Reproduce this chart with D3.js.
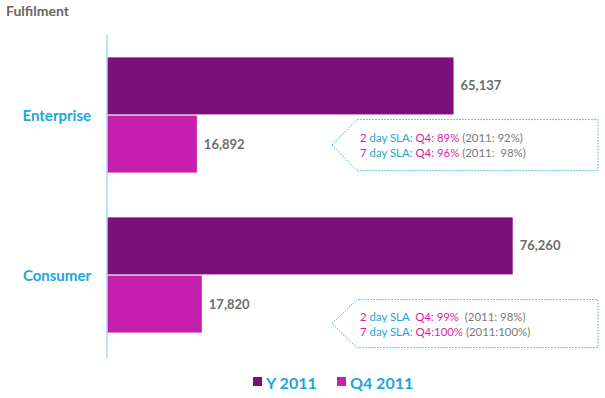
<!DOCTYPE html>
<html lang="en">
<head>
<meta charset="UTF-8">
<title>Fulfilment</title>
<script src="https://cdn.jsdelivr.net/npm/d3@7"></script>
<style>
    body { margin: 0; background: #fff; }
    svg { display: block; font-family: Lato, "Open Sans", sans-serif; }
    .value { fill: #6d6d6d; font-weight: bold; font-size: 13px; }
    .cat { fill: #1ba6e0; font-weight: bold; font-size: 15px; }
    .note { font-size: 11.4px; }
</style>
</head>
<body>
<script>
    /******* DATA *******/
    const categories = ["Enterprise", "Consumer"];
    const seriesNames = ["Y 2011", "Q4 2011"];
    const yearValues = [65137, 76260];
    const q4Values = [16892, 17820];
    // callout lines: [prefix, label, q4 part, 2011 part]
    const enterpriseNotes = [
        ["2", " day SLA: ", "Q4: 89% ", "(2011: 92%)"],
        ["7", " day SLA: ", "Q4: 96% ", "(2011:  98%)"]
    ];
    const consumerNotes = [
        ["2", " day SLA  ", "Q4: 99%  ", "(2011: 98%)"],
        ["7", " day SLA: ", "Q4:100% ", "(2011:100%)"]
    ];

    /******* STYLING *******/
    const width = 605, height = 398;
    const colors = ["#7d0f7b", "#c51fae"];
    const blue = "#1ba6e0";

    const svg = d3.select("body").append("svg")
        .attr("width", width)
        .attr("height", height);

    const rows = categories.map((c, i) => ({
        cat: c,
        values: [yearValues[i], q4Values[i]],
        notes: i === 0 ? enterpriseNotes : consumerNotes
    }));

    // Scales
    const xScale = d3.scaleLinear().domain([0, 80000]).range([107, 107 + 80000 * 0.00532]);
    const yScale = d3.scaleBand().domain(categories).range([35, 355]).paddingInner(0.28).paddingOuter(0.14);
    const subScale = d3.scaleBand().domain(seriesNames).range([0, yScale.bandwidth()]).paddingInner(0.02);

    // Title
    svg.append("text")
        .attr("x", 6).attr("y", 16)
        .style("font-size", "14px").style("font-weight", "bold").style("fill", "#666")
        .text("Fulfilment");

    // Bars
    const groups = svg.selectAll("g.group")
        .data(rows)
        .enter()
        .append("g")
        .attr("class", "group")
        .attr("transform", d => `translate(0,${yScale(d.cat)})`);

    groups.selectAll("rect")
        .data(d => d.values.map((v, j) => ({ v: v, s: seriesNames[j], j: j })))
        .enter()
        .append("rect")
        .attr("x", xScale(0))
        .attr("y", d => subScale(d.s))
        .attr("width", d => xScale(d.v) - xScale(0))
        .attr("height", subScale.bandwidth())
        .attr("fill", d => colors[d.j]);

    groups.selectAll("text.value")
        .data(d => d.values.map((v, j) => ({ v: v, s: seriesNames[j] })))
        .enter()
        .append("text")
        .attr("class", "value")
        .attr("x", d => xScale(d.v) + 7)
        .attr("y", d => subScale(d.s) + subScale.bandwidth() / 2)
        .attr("dy", "0.35em")
        .text(d => d3.format(",")(d.v));

    // Category labels
    svg.selectAll("text.cat")
        .data(categories)
        .enter()
        .append("text")
        .attr("class", "cat")
        .attr("x", 91)
        .attr("y", d => yScale(d) + yScale.bandwidth() / 2 + 1)
        .attr("dy", "0.35em")
        .attr("text-anchor", "end")
        .text(d => d);

    // Axis line
    svg.append("line")
        .attr("x1", xScale(0)).attr("x2", xScale(0))
        .attr("y1", 35).attr("y2", 358)
        .attr("stroke", "#a9d8f0").attr("stroke-width", 1.5);

    // Callouts (box top / bottom, first text line, relative to the Q4 bar)
    const boxTop = [4, 24], boxBot = [55, 72], noteY = [22, 41];
    const callout = groups.append("g")
        .attr("transform", d => `translate(0,${subScale(seriesNames[1])})`);

    callout.append("path")
        .attr("d", (d, i) => {
            const top = boxTop[i], bot = boxBot[i];
            const mid = (top + bot) / 2;
            return `M332,${mid} L357,${top} L598,${top} L598,${bot} L357,${bot} Z`;
        })
        .attr("fill", "none")
        .attr("stroke", "#2fb4e6")
        .attr("stroke-width", 1)
        .attr("stroke-dasharray", "1.5,1.5");

    const noteText = callout.selectAll("text.note")
        .data((d, i) => d.notes.map((n, k) => ({ n: n, k: k, i: i })))
        .enter()
        .append("text")
        .attr("class", "note")
        .attr("x", 360)
        .attr("y", d => noteY[d.i] + d.k * 15)
        .attr("dy", "0.35em")
        .style("white-space", "pre")
        .attr("xml:space", "preserve");

    const partColors = ["#d81ea8", blue, "#d81ea8", "#7a7a7a"];
    noteText.selectAll("tspan")
        .data(d => d.n)
        .enter()
        .append("tspan")
        .attr("fill", (d, j) => partColors[j])
        .text(d => d);

    // Legend
    const legend = svg.append("g").attr("transform", "translate(253,376)");
    const legendX = [0, 84];
    seriesNames.forEach((s, j) => {
        legend.append("rect")
            .attr("x", legendX[j]).attr("y", 1)
            .attr("width", 9).attr("height", 9)
            .attr("fill", colors[j]);
        legend.append("text")
            .attr("x", legendX[j] + 13).attr("y", 13)
            .style("font-size", "16px").style("font-weight", "bold").style("fill", blue)
            .text(s);
    });
</script>
</body>
</html>
